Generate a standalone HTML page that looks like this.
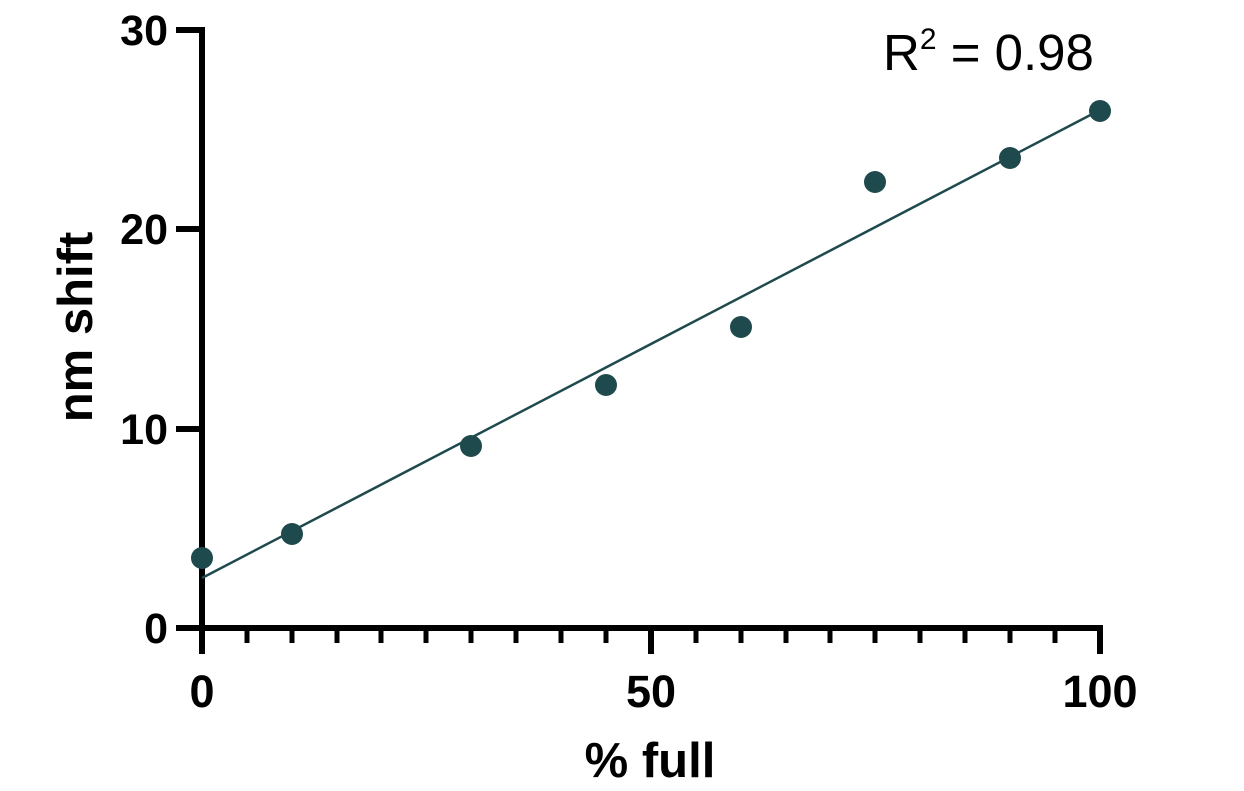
<!DOCTYPE html>
<html><head><style>body{margin:0;background:#fff}</style></head><body>
<svg width="1244" height="786" xmlns="http://www.w3.org/2000/svg" font-family="Liberation Sans, Arial, sans-serif">
<g stroke="#000" stroke-width="6" fill="none">
<line x1="202" y1="27" x2="202" y2="654"/>
<line x1="176" y1="628" x2="1103" y2="628"/>
<line x1="176" y1="30" x2="202" y2="30"/>
<line x1="176" y1="229" x2="202" y2="229"/>
<line x1="176" y1="429" x2="202" y2="429"/>
<line x1="651" y1="628" x2="651" y2="654"/>
<line x1="1100" y1="628" x2="1100" y2="654"/>
</g>
<g stroke="#000" stroke-width="5">
<line x1="247" y1="628" x2="247" y2="643"/><line x1="292" y1="628" x2="292" y2="643"/><line x1="337" y1="628" x2="337" y2="643"/><line x1="381" y1="628" x2="381" y2="643"/><line x1="426" y1="628" x2="426" y2="643"/><line x1="471" y1="628" x2="471" y2="643"/><line x1="516" y1="628" x2="516" y2="643"/><line x1="561" y1="628" x2="561" y2="643"/><line x1="606" y1="628" x2="606" y2="643"/>
<line x1="696" y1="628" x2="696" y2="643"/><line x1="741" y1="628" x2="741" y2="643"/><line x1="786" y1="628" x2="786" y2="643"/><line x1="830" y1="628" x2="830" y2="643"/><line x1="875" y1="628" x2="875" y2="643"/><line x1="920" y1="628" x2="920" y2="643"/><line x1="965" y1="628" x2="965" y2="643"/><line x1="1010" y1="628" x2="1010" y2="643"/><line x1="1055" y1="628" x2="1055" y2="643"/>
</g>
<g font-weight="bold" font-size="43" text-anchor="end">
<text x="168" y="45">30</text><text x="168" y="244">20</text><text x="168" y="444">10</text><text x="168" y="643">0</text>
</g>
<g font-weight="bold" font-size="45" text-anchor="middle">
<text x="202" y="707">0</text><text x="651" y="707">50</text><text x="1100" y="707">100</text>
</g>
<text x="650" y="777" font-weight="bold" font-size="49" text-anchor="middle">% full</text>
<text transform="translate(92,327) rotate(-90)" font-weight="bold" font-size="49" text-anchor="middle">nm shift</text>
<text x="883" y="70" font-size="51">R<tspan font-size="30" dy="-21">2</tspan><tspan dy="21"> = 0.98</tspan></text>
<line x1="202" y1="578" x2="1100" y2="110" stroke="#1f4a4d" stroke-width="2.5"/>
<g fill="#1f4a4d">
<circle cx="202" cy="558" r="11"/><circle cx="292" cy="534" r="11"/><circle cx="471" cy="446" r="11"/><circle cx="606" cy="385" r="11"/><circle cx="741" cy="327" r="11"/><circle cx="875" cy="182" r="11"/><circle cx="1010" cy="158" r="11"/><circle cx="1100" cy="111" r="11"/>
</g>
</svg>
</body></html>
